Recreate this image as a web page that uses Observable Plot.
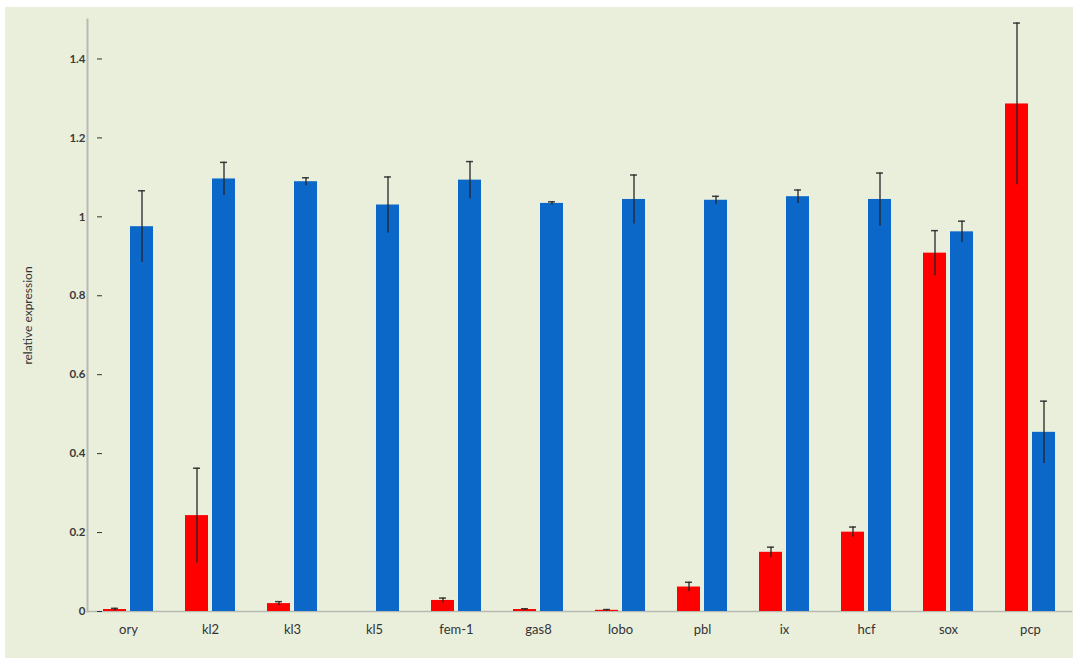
<!DOCTYPE html>
<html>
<head>
<meta charset="utf-8">
<script src="https://cdn.jsdelivr.net/npm/d3@7"></script>
<script src="https://cdn.jsdelivr.net/npm/@observablehq/plot@0.6"></script>
<style>
  html, body { margin: 0; padding: 0; background: #ffffff; }
  #chart { position: absolute; left: 5px; top: 7px; }
  #chart g[aria-label="y-axis tick"] { stroke: #9a9d94; }
  #chart g[aria-label="y-axis tick label"] { fill: #3a3a3a; }
  #chart g[aria-label="y-axis label"] text { font-size: 12px; font-weight: normal; fill: #333; }
  #chart g[aria-label="fx-axis tick label"] { fill: #333; font-size: 13px; }
</style>
</head>
<body>
<div id="chart"></div>
<script>
// ---- data ----
const categories = ["ory", "kl2", "kl3", "kl5", "fem-1", "gas8", "lobo", "pbl", "ix", "hcf", "sox", "pcp"];
const seriesNames = ["series 1", "series 2"];
const redValues  = [0.005, 0.243, 0.020, 0.000, 0.028, 0.005, 0.003, 0.062, 0.150, 0.201, 0.908, 1.286];
const redErrors  = [0.003, 0.120, 0.005, 0.000, 0.006, 0.002, 0.002, 0.012, 0.013, 0.013, 0.057, 0.205];
const blueValues = [0.975, 1.096, 1.089, 1.030, 1.093, 1.034, 1.044, 1.042, 1.051, 1.044, 0.962, 0.454];
const blueErrors = [0.091, 0.042, 0.010, 0.071, 0.047, 0.004, 0.062, 0.010, 0.017, 0.067, 0.027, 0.079];
const yTicks = [0, 0.2, 0.4, 0.6, 0.8, 1, 1.2, 1.4];
const yLabel = "relative expression";

// ---- table built from the arrays ----
const rows = [];
categories.forEach((c, i) => {
  rows.push({cat: c, series: seriesNames[0], value: redValues[i],  err: redErrors[i]});
  rows.push({cat: c, series: seriesNames[1], value: blueValues[i], err: blueErrors[i]});
});
const errRows = rows.filter(d => d.err > 0);

const chart = Plot.plot({
  width: 1068,
  height: 651,
  marginTop: 12,
  marginBottom: 47,
  marginLeft: 91,
  marginRight: 8,
  style: {background: "#eaefdc", fontFamily: "Lato, 'Open Sans', sans-serif", fontSize: "12px", color: "#333"},
  fx: {domain: categories, range: [76, 1071], padding: 0, label: null, tickSize: 0, tickPadding: 13},
  x: {domain: seriesNames, paddingInner: 0.143, paddingOuter: 0.552, axis: null},
  y: {domain: [0, 1.5]},
  color: {type: "ordinal", domain: seriesNames, range: ["#ff0000", "#0b68c9"]},
  marks: [
    Plot.frame({anchor: "left", facet: "super", stroke: "#b7bab0", strokeWidth: 2}),
    Plot.frame({anchor: "bottom", facet: "super", stroke: "#b7bab0", strokeWidth: 1.5}),
    Plot.axisY(yTicks, {
      dx: 15,
      tickFormat: d => String(d),
      tickSize: 5,
      tickPadding: 12,
      fontWeight: "bold",
      fontSize: 11.5,
      label: yLabel,
      labelAnchor: "center",
      labelArrow: "none",
      labelOffset: 64
    }),
    Plot.barY(rows, {fx: "cat", x: "series", y: "value", fill: "series"}),
    Plot.ruleX(errRows, {
      fx: "cat", x: "series",
      y1: d => Math.max(0, d.value - d.err),
      y2: d => d.value + d.err,
      stroke: "#222", strokeWidth: 1.5, strokeOpacity: 0.85
    }),
    Plot.tickY(errRows, {
      fx: "cat", x: "series",
      y: d => d.value + d.err,
      insetLeft: 8, insetRight: 8,
      stroke: "#222", strokeWidth: 1.5, strokeOpacity: 0.85
    })
  ]
});
document.getElementById("chart").appendChild(chart);
</script>
</body>
</html>
